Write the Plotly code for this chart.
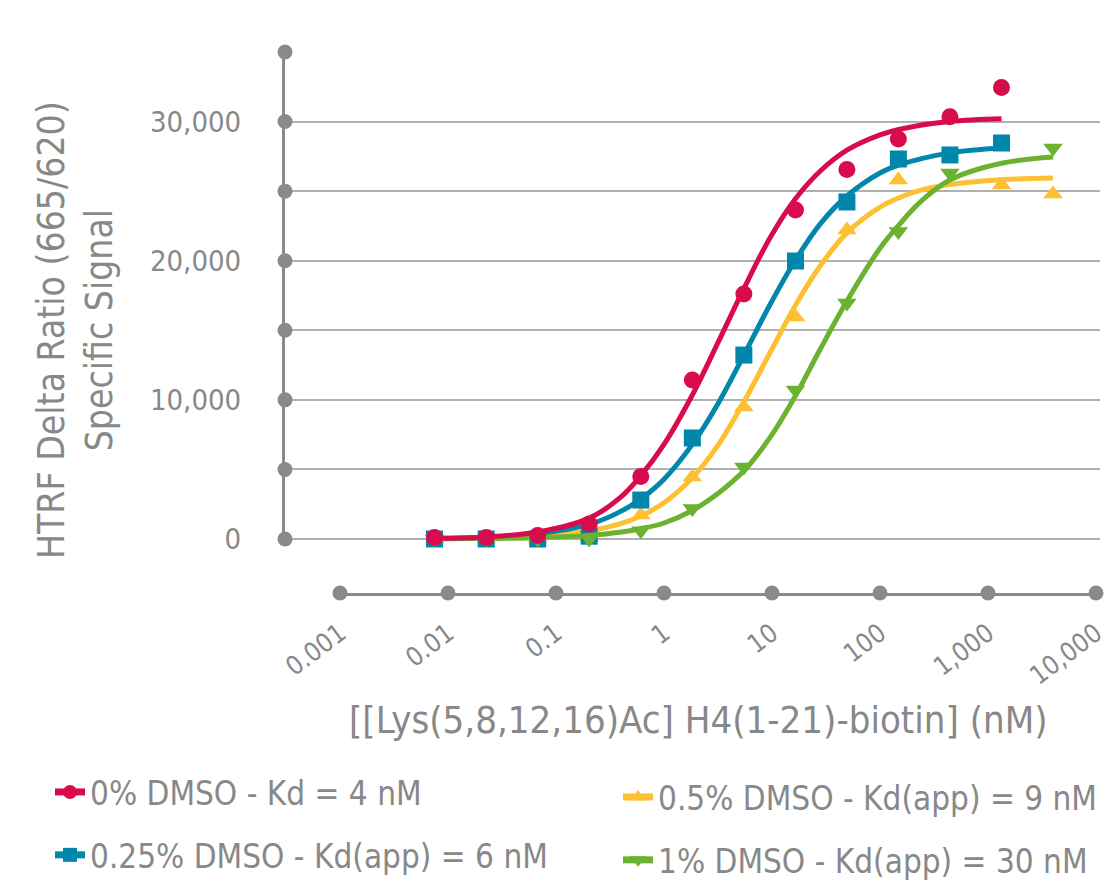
import plotly.graph_objects as go

# ---------------- data ----------------
CONC = [0.0075, 0.0226, 0.0677, 0.203, 0.61, 1.83, 5.49, 16.5, 49.4, 148, 444, 1333, 4000]
RED_PTS = [100, 100, 250, 1080, 4500, 11430, 17600, 23650, 26550, 28750, 30350, 32450, None]
BLUE_PTS = [0, 0, 0, 200, 2800, 7260, 13220, 19980, 24220, 27310, 27600, 28460, None]
YELLOW_PTS = [0, 0, 0, 100, 1725, 4460, 9490, 15960, 22200, 25800, None, 25450, 24800]
GREEN_PTS = [0, 0, 0, 0, 600, 2200, 5170, 10700, 16960, 22100, 26300, None, 28100]

# fitted curves
RED_FIT_X = [0.0075, 0.0226, 0.0677, 0.203, 0.39, 0.61, 1.0, 1.83, 3.2, 5.49, 9.6, 16.5, 28, 49.4, 100, 153, 444, 1333]
RED_FIT_Y = [50, 150, 500, 1500, 2950, 4550, 6800, 10350, 14200, 18000, 21650, 24450, 26450, 27950, 29050, 29450, 30000, 30200]
BLUE_FIT_X = [0.0075, 0.0226, 0.0677, 0.203, 0.39, 0.61, 1.0, 1.83, 3.2, 5.49, 9.6, 16.5, 28, 49.4, 100, 153, 444, 1333]
BLUE_FIT_Y = [50, 130, 380, 1050, 1950, 2880, 4300, 6800, 9800, 13220, 16850, 20050, 22650, 24650, 26300, 26900, 27750, 28100]
YELLOW_FIT_X = [0.0075, 0.0226, 0.0677, 0.203, 0.39, 0.61, 1.0, 1.83, 3.2, 5.49, 9.6, 16.5, 27.8, 49.4, 100, 153, 234, 444, 1333, 4000]
YELLOW_FIT_Y = [20, 65, 190, 570, 1080, 1650, 2600, 4400, 6800, 9850, 13400, 16800, 19600, 22000, 23850, 24550, 25050, 25480, 25820, 25940]
GREEN_FIT_X = [0.0075, 0.0226, 0.0677, 0.203, 0.39, 0.61, 1.0, 1.83, 3.2, 5.49, 9.6, 16.5, 27.8, 49.4, 100, 153, 234, 444, 1333, 4000]
GREEN_FIT_Y = [10, 30, 90, 260, 480, 740, 1150, 2050, 3300, 4900, 7300, 10300, 13600, 17100, 20900, 22650, 24200, 25800, 27000, 27450]

SERIES_NAMES = ["0% DMSO - Kd = 4 nM", "0.25% DMSO - Kd(app) = 6 nM",
                "0.5% DMSO - Kd(app) = 9 nM", "1% DMSO - Kd(app) = 30 nM"]

X_TICKS = [0.001, 0.01, 0.1, 1, 10, 100, 1000, 10000]
X_LABELS = ["0.001", "0.01", "0.1", "1", "10", "100", "1,000", "10,000"]
Y_TICKS = [0, 5000, 10000, 15000, 20000, 25000, 30000, 35000]
Y_LABELS = ["0", "", "10,000", "", "20,000", "", "30,000", ""]

X_TITLE = "[[Lys(5,8,12,16)Ac] H4(1-21)-biotin] (nM)"
Y_TITLE = "HTRF Delta Ratio (665/620)<br>Specific Signal"

# ---------------- styling ----------------
FONT = "DejaVu Sans Condensed, Liberation Sans Narrow, sans-serif"
TXT = "#888888"
AXIS = "#8a8a8a"
GRID = "#b0b0b0"
RED, BLUE, YELLOW, GREEN = "#D80C4D", "#0087AB", "#FCC032", "#6BB230"

W, H = 1106, 882
M_L, M_R, M_T, M_B = 285, 6, 52, 289
PLOT_W = W - M_L - M_R
PLOT_H = H - M_T - M_B
Y_SPAN_PX = 487          # pixels between 0 and 35,000
Y_PAD = 400              # little room below 0 so curves are not clipped
Y_MAX = 35000
XR = [-3.509, 4.037]     # log10 range of the data x axis
X2R = [-3.0005, 4.0005]  # log10 range of the visible x axis line

y_dom0 = 1 - ((Y_MAX + Y_PAD) / Y_MAX * Y_SPAN_PX) / PLOT_H
x2_dom = [(X2R[0] - XR[0]) / (XR[1] - XR[0]), (X2R[1] - XR[0]) / (XR[1] - XR[0])]


def px_x(p):
    return (p - M_L) / PLOT_W


def px_y(p):
    return (H - M_B - p) / PLOT_H


fig = go.Figure()

# axis dots (y axis on the left edge, x axis on its own line)
fig.add_trace(go.Scatter(x=[10 ** XR[0]] * len(Y_TICKS), y=Y_TICKS, mode="markers",
                         marker=dict(color=AXIS, size=15), cliponaxis=False,
                         showlegend=False, hoverinfo="skip"))
fig.add_trace(go.Scatter(x=X_TICKS, y=[0] * len(X_TICKS), xaxis="x2", yaxis="y2",
                         mode="markers", marker=dict(color=AXIS, size=15),
                         cliponaxis=False, showlegend=False, hoverinfo="skip"))

series = [
    (SERIES_NAMES[2], YELLOW, "triangle-up", YELLOW_PTS, YELLOW_FIT_X, YELLOW_FIT_Y, "legend2", 1),
    (SERIES_NAMES[1], BLUE, "square", BLUE_PTS, BLUE_FIT_X, BLUE_FIT_Y, "legend", 2),
    (SERIES_NAMES[3], GREEN, "triangle-down", GREEN_PTS, GREEN_FIT_X, GREEN_FIT_Y, "legend2", 2),
    (SERIES_NAMES[0], RED, "circle", RED_PTS, RED_FIT_X, RED_FIT_Y, "legend", 1),
]

for name, col, sym, pts, fx, fy, leg, rank in series:
    fig.add_trace(go.Scatter(x=fx, y=fy, mode="lines", line=dict(color=col, width=5, shape="spline"),
                             showlegend=False, hoverinfo="skip"))
    fig.add_trace(go.Scatter(x=CONC, y=pts, mode="markers", name=name,
                             marker=dict(color=col, symbol=sym, size=17, line=dict(width=0)),
                             cliponaxis=False, showlegend=False))
    # legend entry (line + marker)
    fig.add_trace(go.Scatter(x=[None], y=[None], mode="lines+markers", name=name,
                             line=dict(color=col, width=7),
                             marker=dict(color=col, symbol=sym, size=14),
                             legend=leg, legendrank=rank, legendgroup=name))

legend_common = dict(font=dict(family=FONT, size=33, color=TXT), bgcolor="rgba(0,0,0,0)",
                     orientation="v", xanchor="left", yanchor="top", tracegroupgap=17,
                     itemsizing="trace")

fig.update_layout(
    width=W, height=H,
    margin=dict(l=M_L, r=M_R, t=M_T, b=M_B, autoexpand=False),
    paper_bgcolor="white", plot_bgcolor="rgba(0,0,0,0)",
    font=dict(family=FONT, color=TXT),
    xaxis=dict(type="log", range=XR, domain=[0, 1], showgrid=False, showline=False,
               zeroline=False, showticklabels=False, ticks=""),
    yaxis=dict(range=[-Y_PAD, Y_MAX], domain=[y_dom0, 1], tickvals=Y_TICKS, ticktext=Y_LABELS,
               showgrid=True, gridcolor=GRID, gridwidth=2, showline=True, linecolor=AXIS,
               linewidth=3, zeroline=False, ticks="", ticklabelstandoff=35,
               tickfont=dict(family=FONT, size=29, color=TXT)),
    xaxis2=dict(type="log", range=X2R, domain=x2_dom, anchor="y2", tickvals=X_TICKS,
                ticktext=X_LABELS, tickangle=-37, showline=True, linecolor=AXIS, linewidth=3,
                showgrid=False, zeroline=False, ticks="", ticklabelstandoff=12,
                ticklabeloverflow="allow",
                tickfont=dict(family=FONT, size=26, color=TXT)),
    yaxis2=dict(range=[0, 1], domain=[0, 1], anchor="x2", visible=False),
    legend=dict(x=px_x(50), y=px_y(764), **legend_common),
    legend2=dict(x=px_x(618), y=px_y(769), **legend_common),
    annotations=[
        dict(text=X_TITLE, xref="paper", yref="paper",
             x=px_x(698), y=px_y(720),
             xanchor="center", yanchor="middle", showarrow=False,
             font=dict(family=FONT, size=38, color=TXT)),
        dict(text=Y_TITLE, xref="paper", yref="paper",
             x=px_x(75), y=px_y(330),
             xanchor="center", yanchor="middle", showarrow=False, textangle=-90,
             font=dict(family=FONT, size=37, color=TXT)),
    ],
    showlegend=True,
)

fig.write_html("out.html")
